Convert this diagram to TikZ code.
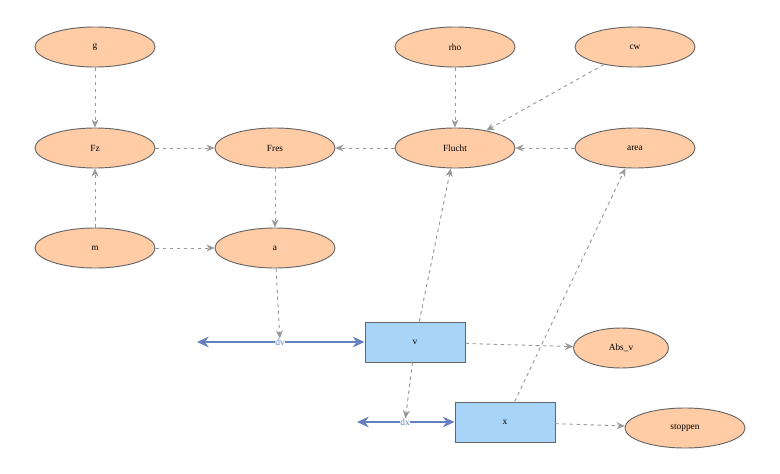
\documentclass[tikz,border=0pt]{standalone}
\usepackage{fontspec}
\setmainfont{Liberation Serif}
\usetikzlibrary{arrows.meta, shapes.geometric}
\definecolor{varpeach}{RGB}{255, 204, 166}
\definecolor{stockblue}{RGB}{168, 212, 247}
\definecolor{flowblue}{RGB}{100, 128, 191}
\definecolor{edgegray}{RGB}{102, 102, 102}
\definecolor{linkgray}{RGB}{153, 153, 153}
\begin{document}
\begin{tikzpicture}[x=0.03cm, y=-0.03cm]
                % Styles
                \tikzstyle{var}=[draw=edgegray, thick, ellipse, fill=varpeach, minimum width=3.6cm, minimum height=1.2cm, font=\footnotesize]
                \tikzstyle{stock}=[draw=edgegray, thick, fill=stockblue, minimum width=3cm, minimum height=1.2cm, font=\footnotesize]
                \tikzstyle{link}=[->, >={Stealth[length=7pt,width=6pt]}, dashed, thick, linkgray]
                \tikzstyle{flow}=[line width=2pt, flowblue, -{Stealth[length=10pt,width=9pt]}]
                \tikzstyle{rate}=[font=\footnotesize, text=flowblue, inner sep=0pt]
                \useasboundingbox (0,0) rectangle (780,474);

                % Variables
                \node[var] (g) at (95,47) {g};
                \node[var] (rho) at (455,47) {rho};
                \node[var] (cw) at (635,47) {cw};
                \node[var] (Fz) at (95,148) {Fz};
                \node[var] (Fres) at (275,148) {Fres};
                \node[var] (Flucht) at (455,148) {Flucht};
                \node[var] (area) at (635,148) {area};
                \node[var] (m) at (95,248) {m};
                \node[var] (a) at (275,248) {a};
                \node[var, minimum width=2.85cm] (Absv) at (621,348) {Abs\_v};
                \node[var] (stoppen) at (685,428) {stoppen};

                % Stocks
                \node[stock] (v) at (415,342) {v};
                \node[stock] (x) at (505,422) {x};

                % Rates
                \node[rate] (dv) at (280,342) {dv};
                \node[rate] (dx) at (405,422) {dx};
                \coordinate (dvin) at (197,342);
                \coordinate (dxin) at (357,422);
                \draw[flow] (dv) -- (v);
                \draw[flow] (dx) -- (x);
                \draw[line width=2pt, flowblue, -{Stealth[open, length=10pt, width=9pt]}] (dv) -- (dvin);
                \draw[line width=2pt, flowblue, -{Stealth[open, length=10pt, width=9pt]}] (dx) -- (dxin);

                % Links
                \draw[link] (g) -- (Fz);
                \draw[link] (m) -- (Fz);
                \draw[link] (m) -- (a);
                \draw[link] (Fz) -- (Fres);
                \draw[link] (Flucht) -- (Fres);
                \draw[link] (Fres) -- (a);
                \draw[link] (rho) -- (Flucht);
                \draw[link] (cw) -- (Flucht);
                \draw[link] (area) -- (Flucht);
                \draw[link] (a) -- (dv);
                \draw[link] (v) -- (Flucht);
                \draw[link] (v) -- (Absv);
                \draw[link] (v) -- (dx);
                \draw[link] (x) -- (area);
                \draw[link] (x) -- (stoppen);
            \end{tikzpicture}
\end{document}
